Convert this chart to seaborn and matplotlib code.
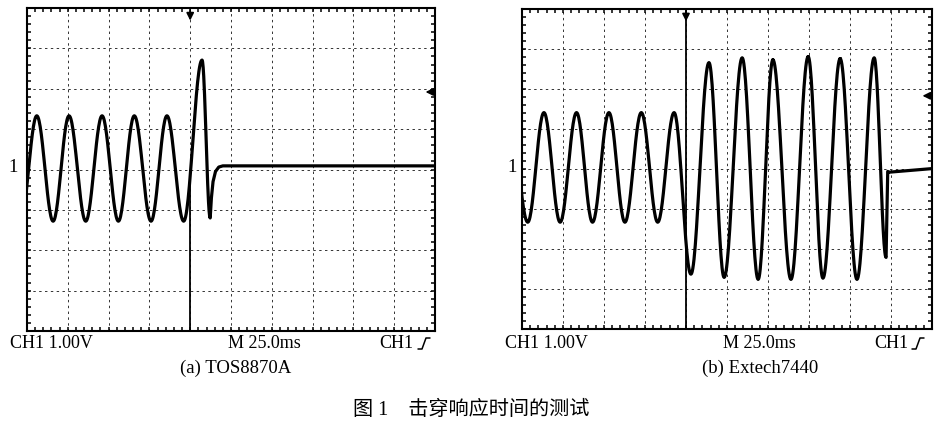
import numpy as np
import matplotlib
matplotlib.use("Agg")
import matplotlib.pyplot as plt
import seaborn as sns

# ---- data read off the two scope screens (units: divisions) ----
# (a) TOS8870A: turning points of the trace, then the settled tail
a_ext_t = [-0.16, 0.24, 0.64, 1.03, 1.44, 1.84, 2.24, 2.63, 3.04, 3.43, 3.84, 4.29, 4.49]
a_ext_v = [-1.28, 1.33, -1.28, 1.33, -1.28, 1.33, -1.28, 1.33, -1.28, 1.33, -1.28, 2.71, -1.20]
a_tail_t = [4.49, 4.52, 4.56, 4.62, 4.70, 4.80, 10.0]
a_tail_v = [-1.20, -0.70, -0.30, -0.05, 0.06, 0.09, 0.09]
a_cursor = (-4.0, -0.12)      # solid cursor line at the trigger point
a_trig_level = 1.92

# (b) Extech7440
b_ext_t = [-0.30, 0.14, 0.535, 0.93, 1.33, 1.72, 2.12, 2.51, 2.91, 3.31, 3.71,
           4.12, 4.56, 4.93, 5.37, 5.76, 6.12, 6.56, 6.98, 7.34, 7.76, 8.17, 8.59, 8.88]
b_ext_v = [1.41, -1.33, 1.41, -1.33, 1.41, -1.33, 1.41, -1.33, 1.41, -1.33, 1.41,
           -2.63, 2.66, -2.71, 2.78, -2.76, 2.73, -2.76, 2.81, -2.73, 2.76, -2.76, 2.78, -2.21]
b_tail_t = [8.88, 8.92, 8.95, 10.0]
b_tail_v = [-2.21, -0.06, -0.08, 0.01]
b_cursor = (-4.0, 4.0)
b_trig_level = 1.83

panel_titles = ["(a) TOS8870A", "(b) Extech7440"]
caption = "图 1    击穿响应时间的测试"


def trace(ext_t, ext_v, tail_t, tail_v, n=30):
    # sine-like half swings between the read turning points
    xs, ys = [], []
    for (t0, v0), (t1, v1) in zip(zip(ext_t[:-1], ext_v[:-1]), zip(ext_t[1:], ext_v[1:])):
        s = np.linspace(0, 1, n)
        xs.append(t0 + (t1 - t0) * s)
        ys.append(v0 + (v1 - v0) * (1 - np.cos(np.pi * s)) / 2)
    xs.append(np.array(tail_t[1:]))
    ys.append(np.array(tail_v[1:]))
    return np.concatenate(xs), np.concatenate(ys)


sns.set_theme(style="white")
plt.rcParams["font.family"] = ["Liberation Serif", "Noto Sans CJK SC", "DejaVu Sans"]
plt.rcParams["text.color"] = "black"

W, H = 950, 428
fig = plt.figure(figsize=(9.5, 4.28), dpi=100)


def fx(x):
    return x / W


def fy(y):
    return 1 - y / H


panels = [
    dict(box=(27, 8, 435, 331), ext=(a_ext_t, a_ext_v), tail=(a_tail_t, a_tail_v),
         cursor=a_cursor, trig=a_trig_level, title_x=236, sym_x=418, one_x=13),
    dict(box=(522, 9, 932, 329), ext=(b_ext_t, b_ext_v), tail=(b_tail_t, b_tail_v),
         cursor=b_cursor, trig=b_trig_level, title_x=760, sym_x=912, one_x=512),
]

for p, title in zip(panels, panel_titles):
    x0, y0, x1, y1 = p["box"]
    ax = fig.add_axes([fx(x0), fy(y1), (x1 - x0) / W, (y1 - y0) / H])
    ax.set_xlim(0, 10)
    ax.set_ylim(-4, 4)

    ax.set_xticks(np.arange(0, 11, 1))
    ax.set_yticks(np.arange(-4, 5, 1))
    ax.set_xticks(np.arange(0, 10.01, 0.2), minor=True)
    ax.set_yticks(np.arange(-4, 4.01, 0.2), minor=True)
    ax.tick_params(which="both", direction="in", length=3, width=1.1, color="black",
                   top=True, right=True, bottom=True, left=True,
                   labelbottom=False, labelleft=False)
    ax.grid(True, which="major", linestyle=(0, (2.5, 3.5)), color="#333333", lw=0.7)
    for s in ax.spines.values():
        s.set_color("black")
        s.set_linewidth(1.5)

    t, v = trace(p["ext"][0], p["ext"][1], p["tail"][0], p["tail"][1])
    sns.lineplot(x=t, y=v, ax=ax, color="black", lw=2.3, estimator=None, sort=False)
    ax.plot([4.0, 4.0], list(p["cursor"]), color="black", lw=1.3)

    # trigger position and level markers
    ax.annotate("", xy=(4.0, 3.62), xytext=(4.0, 4.0),
                arrowprops=dict(arrowstyle="-|>", color="black", lw=1.2, mutation_scale=11))
    ax.annotate("", xy=(9.7, p["trig"]), xytext=(10.0, p["trig"]),
                arrowprops=dict(arrowstyle="-|>", color="black", lw=1.2, mutation_scale=11))

    # labels
    fig.text(fx(p["one_x"]), fy(168), "1", fontsize=13.5, ha="center", va="center")
    fig.text(fx(x0 - 17), fy(343), "CH1 1.00V", fontsize=13, ha="left", va="center")
    fig.text(fx(x0 + 201), fy(343), "M 25.0ms", fontsize=13, ha="left", va="center")
    fig.text(fx(x0 + 352), fy(343), "CH1", fontsize=13, ha="left", va="center")
    sx = p["sym_x"]
    fig.add_artist(plt.Line2D([fx(sx), fx(sx + 4), fx(sx + 8), fx(sx + 12)],
                              [fy(349), fy(349), fy(338), fy(338)],
                              color="black", lw=1.1))
    fig.text(fx(p["title_x"]), fy(368), title, fontsize=13.5, ha="center", va="center")

fig.text(fx(471), fy(410), caption, fontsize=14.5, ha="center", va="center")

fig.savefig("out.png", dpi=100, facecolor="white")
